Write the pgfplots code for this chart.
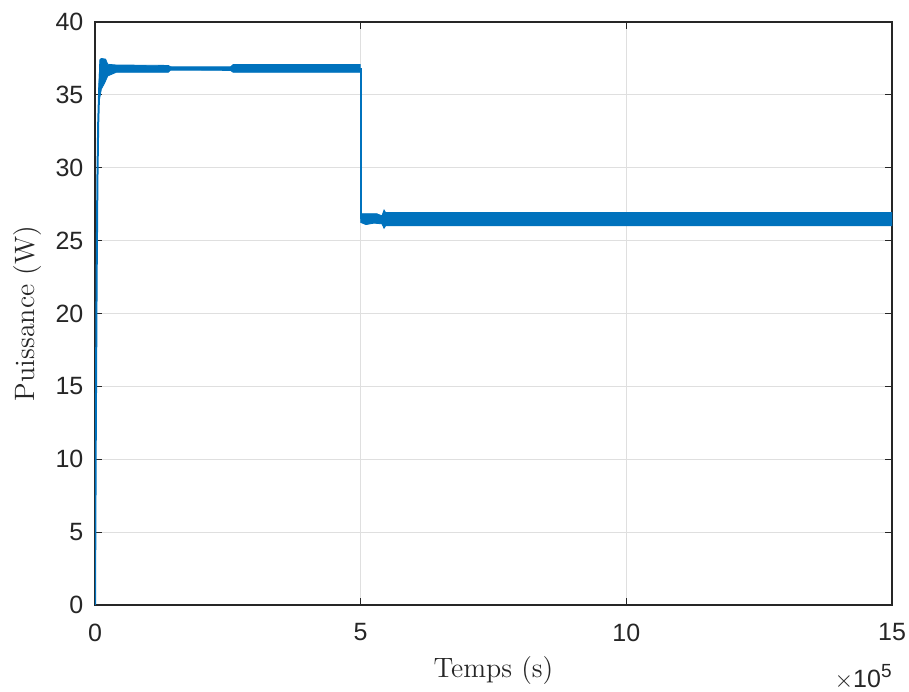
\documentclass[border=0pt]{standalone}
\usepackage{fontspec}
\usepackage{pgfplots}
\pgfplotsset{compat=1.18}
\newfontfamily\ticksf{Liberation Sans}
\definecolor{mblue}{RGB}{0,114,189}
\definecolor{axgray}{RGB}{38,38,38}
\definecolor{gridgray}{RGB}{223,223,223}
\begin{document}
\begin{tikzpicture}
\begin{axis}[
  name=ax,
  scale only axis, width=398.5pt, height=291.5pt,
  xmin=0, xmax=15, ymin=0, ymax=40,
  xtick={0,5,10,15}, ytick={0,5,...,40},
  grid=major, major grid style={gridgray, line width=0.5pt},
  axis line style={axgray, line width=0.6pt},
  tick style={axgray, line width=0.6pt},
  tick align=inside, major tick length=3.5pt,
  /pgf/number format/assume math mode=true,
  ticklabel style={font=\ticksf\fontsize{12.5}{14}\selectfont, text=axgray},
  xticklabel style={yshift=-5.8pt},
  yticklabel style={xshift=-2.3pt},
  xlabel={Temps (s)}, ylabel={Puissance (W)},
  label style={font=\fontsize{14}{16}\selectfont, text=axgray},
  xlabel style={at={(axis description cs:0.5,-0.1235)}, anchor=base},
  ylabel style={at={(axis description cs:-0.0753,0.5)}, anchor=base},
]
% initial rise
\addplot[mblue, line width=1pt] coordinates {(0,0) (0.015,12) (0.03,22) (0.045,29) (0.06,33) (0.08,35.5) (0.1,36.8)};
% upper plateau (oscillation band)
\addplot[mblue, fill=mblue, line width=0.4pt] coordinates {
 (0.07,35.0) (0.09,37.4) (0.12,37.5) (0.2,37.45) (0.24,37.1) (0.4,37.05) (1.38,37.02) (1.42,36.93) (2.55,36.92) (2.6,37.08) (4.99,37.08)
 (4.99,36.55) (2.6,36.55) (2.55,36.68) (1.42,36.7) (1.38,36.55) (0.4,36.55) (0.24,36.3) (0.18,35.8) (0.12,35.4) (0.09,34.8) (0.07,35.0)};
% step down
\addplot[mblue, line width=1pt] coordinates {(4.99,36.8) (5.0,36.8) (5.0,26.5)};
% lower plateau (oscillation band)
\addplot[mblue, fill=mblue, line width=0.4pt] coordinates {
 (5.0,26.85) (5.3,26.85) (5.4,26.7) (5.44,27.1) (5.47,26.92) (15,26.92)
 (15,26.02) (5.47,26.02) (5.44,25.85) (5.4,26.15) (5.25,26.2) (5.1,26.1) (5.0,26.25) (5.0,26.85)};
\end{axis}
\node[anchor=base east, inner sep=0pt, text=axgray] at ([yshift=-41pt]ax.south east)
  {\ticksf\fontsize{12.5}{14}\selectfont $\times$10\raisebox{5pt}{\fontsize{9.5}{10}\selectfont 5}};
\pgfresetboundingbox
\useasboundingbox (-47.5pt,-43pt) rectangle (407pt,302.5pt);
\end{tikzpicture}
\end{document}
